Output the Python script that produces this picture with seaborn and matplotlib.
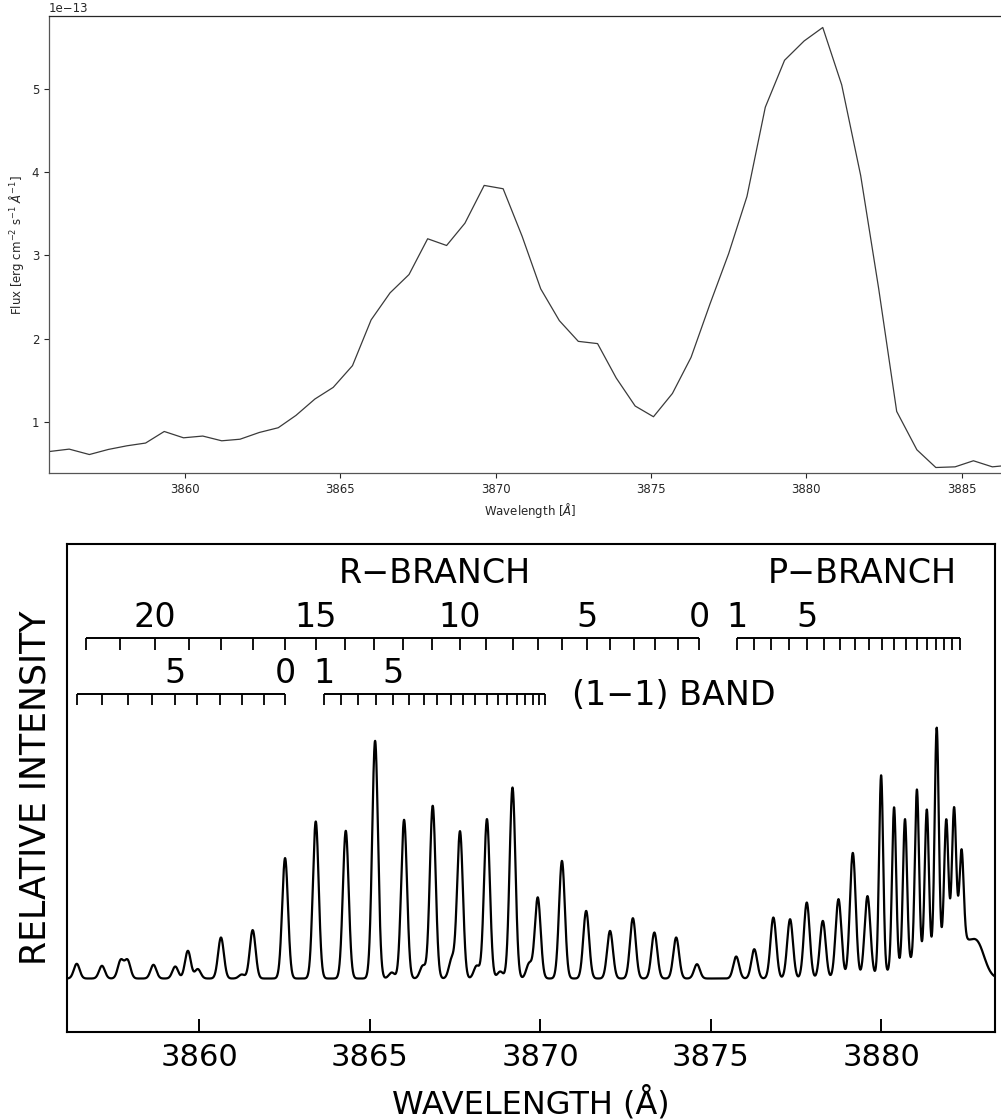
import numpy as np
import matplotlib
matplotlib.use("Agg")
import matplotlib.pyplot as plt
import seaborn as sns

sns.set_style("ticks")
plt.rcParams["font.family"] = ["DejaVu Sans"]

# ---------------- top panel data (flux in units of 1e-13) ----------------
top_wavelength = [3855.65, 3856.27, 3856.92, 3857.53, 3858.13, 3858.73, 3859.33, 3859.95,
                  3860.57, 3861.18, 3861.77, 3862.39, 3863.00, 3863.57, 3864.18, 3864.77,
                  3865.39, 3865.99, 3866.60, 3867.21, 3867.81, 3868.42, 3869.01, 3869.63,
                  3870.24, 3870.85, 3871.45, 3872.05, 3872.66, 3873.28, 3873.88, 3874.49,
                  3875.08, 3875.69, 3876.29, 3876.90, 3877.50, 3878.09, 3878.68, 3879.30,
                  3879.93, 3880.53, 3881.14, 3881.75, 3882.33, 3882.91, 3883.56, 3884.17,
                  3884.79, 3885.38, 3885.99, 3886.60]
top_flux = [0.643, 0.671, 0.606, 0.667, 0.711, 0.744, 0.883, 0.807,
            0.828, 0.771, 0.790, 0.871, 0.928, 1.076, 1.273, 1.413,
            1.674, 2.224, 2.549, 2.769, 3.199, 3.118, 3.386, 3.840,
            3.800, 3.230, 2.597, 2.215, 1.966, 1.939, 1.526, 1.189,
            1.060, 1.340, 1.774, 2.416, 3.020, 3.708, 4.780, 5.344,
            5.576, 5.738, 5.048, 3.960, 2.600, 1.124, 0.663, 0.450,
            0.458, 0.531, 0.458, 0.480]

# ---------------- bottom panel data: resolved lines of the band ----------------
line_wavelength = [3856.41, 3857.15, 3857.70, 3857.90, 3858.66, 3859.30, 3859.67, 3859.96,
                   3860.64, 3861.25, 3861.57, 3862.52, 3863.42, 3864.30, 3865.16, 3865.65,
                   3866.01, 3866.56, 3866.85, 3867.41, 3867.65, 3868.14, 3868.44, 3868.83,
                   3869.19, 3869.68, 3869.93, 3870.64, 3871.35, 3872.05, 3872.72, 3873.35,
                   3873.99, 3874.60, 3875.75, 3876.28, 3876.84, 3877.33, 3877.82, 3878.29,
                   3878.75, 3879.17, 3879.60, 3880.00, 3880.38, 3880.70, 3881.05, 3881.34,
                   3881.63, 3881.91, 3882.14, 3882.36]
line_intensity = [14.7, 12.7, 18.0, 18.0, 13.7, 12.0, 27.7, 9.4,
                  41.0, 4.0, 48.4, 120.4, 157.0, 147.7, 237.7, 6.0,
                  158.7, 12.7, 172.7, 19.4, 147.0, 12.7, 159.4, 7.0,
                  191.0, 15.0, 81.0, 117.6, 67.6, 47.6, 60.3, 46.0,
                  41.0, 14.3, 22.0, 29.3, 61.0, 59.3, 76.0, 57.6,
                  79.3, 125.3, 81.0, 199.0, 162.0, 145.0, 170.0, 148.0,
                  226.0, 124.0, 128.0, 87.0]
line_sigma = [0.085] * 43 + [0.06] * 9
# unresolved emission under the P-branch head
pedestal_wavelength = [3881.29, 3882.26, 3882.84]
pedestal_intensity = [20.0, 35.0, 26.0]
pedestal_sigma = [0.73, 0.35, 0.205]

# rotational line markers (J values)
r00_R_J = list(range(22, -1, -1))
r00_R_wl = [3856.68, 3857.68, 3858.71, 3859.69, 3860.64, 3861.57, 3862.53, 3863.42,
            3864.28, 3865.13, 3865.99, 3866.82, 3867.65, 3868.41, 3869.20, 3869.94,
            3870.65, 3871.37, 3872.05, 3872.74, 3873.37, 3874.03, 3874.66]
r00_P_J = list(range(1, 19))
r00_P_wl = [3875.78, 3876.28, 3876.77, 3877.30, 3877.83, 3878.33, 3878.80, 3879.24,
            3879.65, 3880.03, 3880.38, 3880.73, 3881.06, 3881.35, 3881.61, 3881.85,
            3882.08, 3882.32]
r11_R_J = list(range(9, -1, -1))
r11_R_wl = [3856.41, 3857.15, 3857.90, 3858.61, 3859.30, 3859.95, 3860.62, 3861.25,
            3861.89, 3862.52]
r11_P_J = list(range(1, 20))
r11_P_wl = [3863.65, 3864.16, 3864.67, 3865.19, 3865.68, 3866.14, 3866.58, 3866.99,
            3867.38, 3867.75, 3868.09, 3868.44, 3868.75, 3869.04, 3869.32, 3869.56,
            3869.79, 3869.98, 3870.15]
r00_R_labels = [20, 15, 10, 5, 0]
r00_P_labels = [1, 5]
r11_R_labels = [5, 0]
r11_P_labels = [1, 5]

bottom_ticks = [3860, 3865, 3870, 3875, 3880]

# ---------------- figure ----------------
W, H = 1001, 1120
fig = plt.figure(figsize=(W / 100, H / 100), dpi=100)

# top panel
ax1 = fig.add_axes([49 / W, 1 - 473 / H, (1011 - 49) / W, (473 - 16) / H])
sns.lineplot(x=top_wavelength, y=np.array(top_flux) * 1e-13, ax=ax1,
             color="#3a3a3a", lw=0.9, estimator=None, sort=False)
ax1.set_xlim(3855.62, 3886.59)
ax1.set_ylim(0.384e-13, 5.876e-13)
ax1.set_xlabel(r"Wavelength [$\AA$]", fontsize=8.5)
ax1.set_ylabel(r"Flux [erg cm$^{-2}$ s$^{-1}$ $\AA^{-1}$]", fontsize=8.5)
ax1.tick_params(labelsize=8.5, length=3.5, width=0.8)
ax1.yaxis.get_offset_text().set_fontsize(8.5)
for s in ax1.spines.values():
    s.set_linewidth(0.9)
for s in ("left", "bottom"):
    ax1.spines[s].set_color("#555555")

# bottom panel
ax2 = fig.add_axes([66.5 / W, 1 - 1032 / H, (995 - 66.5) / W, (1032 - 544) / H])
xmin, xmax = 3856.11, 3883.34
grid = np.linspace(xmin, xmax, 8000)
curve = np.zeros_like(grid)
for c, h, s in zip(line_wavelength + pedestal_wavelength,
                   line_intensity + pedestal_intensity,
                   line_sigma + pedestal_sigma):
    curve += h * np.exp(-0.5 * ((grid - c) / s) ** 2)
sns.lineplot(x=grid, y=curve, ax=ax2, color="black", lw=1.6,
             estimator=None, sort=False)
ax2.set_xlim(xmin, xmax)
ax2.set_ylim(-53.5, 434.5)
ax2.set_yticks([])
ax2.set_xticks(bottom_ticks)
ax2.set_xticklabels([str(t) for t in bottom_ticks])
ax2.tick_params(axis="x", direction="in", length=9.5, width=1.4,
                labelsize=22, pad=8, top=False, colors="black")
for s in ax2.spines.values():
    s.set_linewidth(1.5)
    s.set_color("black")
ax2.set_xlabel("WAVELENGTH (Å)", fontsize=23, labelpad=10, color="black")
ax2.set_ylabel("RELATIVE INTENSITY", fontsize=25, labelpad=10, color="black")

fs = 24


def ruler(ax, wls, js, labels, y_line, tick_len, y_text):
    ax.hlines(y_line, wls[0], wls[-1], color="black", lw=1.4)
    ax.vlines(wls, y_line - tick_len, y_line, color="black", lw=1.3)
    for lab in labels:
        ax.text(wls[js.index(lab)], y_text, str(lab), ha="center", va="baseline",
                fontsize=fs, color="black")


ruler(ax2, r00_R_wl, r00_R_J, r00_R_labels, 341.0, 12.5, 351.5)
ruler(ax2, r00_P_wl, r00_P_J, r00_P_labels, 341.0, 12.5, 351.5)
ruler(ax2, r11_R_wl, r11_R_J, r11_R_labels, 285.0, 11.5, 295.5)
ruler(ax2, r11_P_wl, r11_P_J, r11_P_labels, 285.0, 11.5, 295.5)
ax2.text(3866.92, 395.5, "R\u2212BRANCH", ha="center", va="baseline", fontsize=fs,
         color="black")
ax2.text(3879.44, 395.5, "P\u2212BRANCH", ha="center", va="baseline", fontsize=fs,
         color="black")
ax2.text(3870.93, 273.0, "(1\u22121) BAND", ha="left", va="baseline", fontsize=fs,
         color="black")

fig.savefig("out.png", dpi=100)
